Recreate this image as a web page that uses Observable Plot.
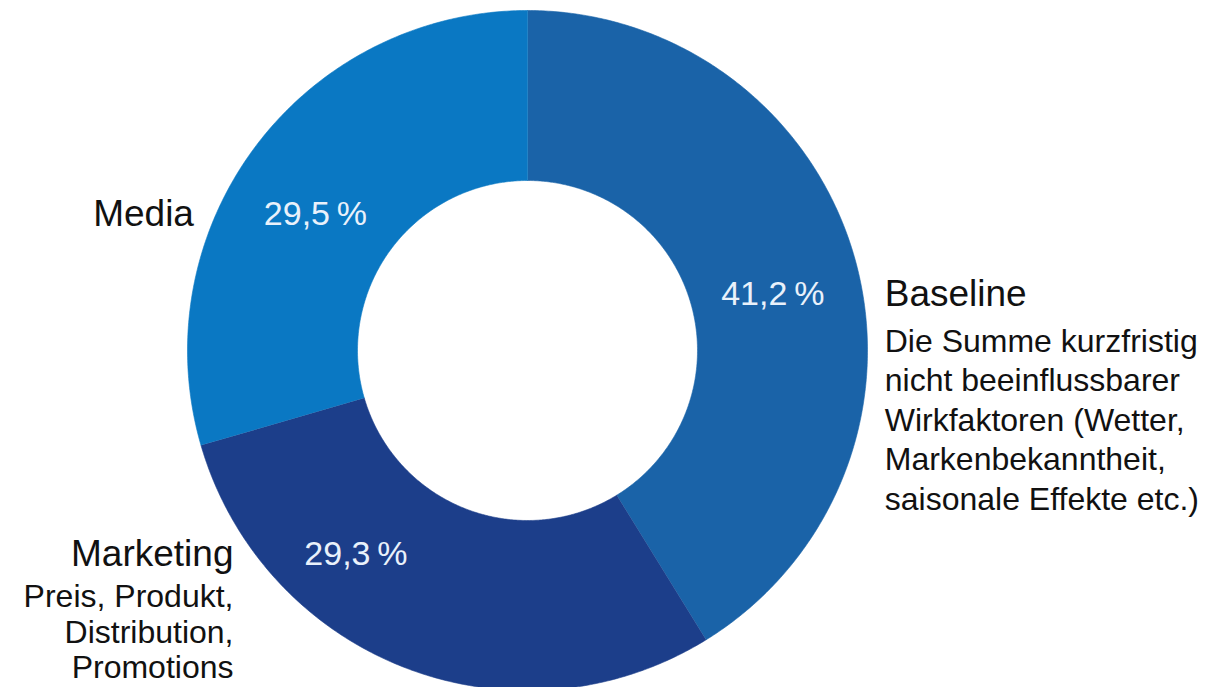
<!DOCTYPE html>
<html>
<head>
<meta charset="utf-8">
<script src="https://cdn.jsdelivr.net/npm/d3@7"></script>
<script src="https://cdn.jsdelivr.net/npm/@observablehq/plot@0.6"></script>
<style>
  html, body { margin: 0; padding: 0; background: #ffffff; overflow: hidden; }
  #chart svg { display: block; }
</style>
</head>
<body>
<div id="chart"></div>
<script>
// ---- Data ----
const categories = ["Baseline", "Marketing", "Media"];
const shares = [41.2, 29.3, 29.5];
const shareLabels = ["41,2\u2009%", "29,3\u2009%", "29,5\u2009%"];
const descriptions = [
  ["Die Summe kurzfristig", "nicht beeinflussbarer", "Wirkfaktoren (Wetter,", "Markenbekanntheit,", "saisonale Effekte etc.)"],
  ["Preis, Produkt,", "Distribution,", "Promotions"],
  []
];
const colors = ["#1a63a8", "#1c3e8a", "#0a78c3"];

// ---- Layout / style ----
const W = 1227, H = 687;
const cx = 527, cy = 350, pxR = 340;        // donut centre & outer radius in pixels
const rOuter = 1.0, rInner = 0.5;           // radii in scale units
const labelR = 0.75;
const labelNudgeX = [0, -0.235, -0.024];    // label placement tweaks (scale units)
const labelNudgeY = [-0.038, 0.1, -0.05];
const titleGap = 22 / pxR;
const font = "'Liberation Sans', Arial, Helvetica, sans-serif";

// ---- Build ring polygons from shares ----
const total = d3.sum(shares);
const ringPts = [];
const labels = [];
let acc = 0;
categories.forEach((c, i) => {
  const a0 = acc / total * 2 * Math.PI;
  acc += shares[i];
  const a1 = acc / total * 2 * Math.PI;
  const n = Math.max(2, Math.ceil((a1 - a0) / (Math.PI / 360)));
  const outer = d3.range(n + 1).map(k => a0 + (a1 - a0) * k / n);
  outer.forEach(t => ringPts.push({cat: c, x: rOuter * Math.sin(t), y: rOuter * Math.cos(t)}));
  outer.slice().reverse().forEach(t => ringPts.push({cat: c, x: rInner * Math.sin(t), y: rInner * Math.cos(t)}));
  const mid = (a0 + a1) / 2;
  const lx = labelR * Math.sin(mid) + labelNudgeX[i];
  const ly = labelR * Math.cos(mid) + labelNudgeY[i];
  const side = lx >= 0 ? 1 : -1;
  const tx = side * (Math.sqrt(1 - ly * ly) + titleGap);
  labels.push({
    cat: c, share: shareLabels[i], lx, ly, tx, ty: ly,
    anchor: side > 0 ? "start" : "end",
    desc: descriptions[i].join("\n")
  });
});

const sliceMarks = categories.map((c, i) =>
  Plot.line(ringPts.filter(d => d.cat === c), {
    x: "x", y: "y", fill: colors[i], stroke: colors[i], strokeWidth: 0.6, clip: true
  })
);

const plot = Plot.plot({
  width: W,
  height: H,
  margin: 0,
  x: {domain: [-cx / pxR, (W - cx) / pxR], axis: null},
  y: {domain: [-(H - cy) / pxR, cy / pxR], axis: null},
  style: {fontFamily: font, background: "#ffffff"},
  marks: [
    ...sliceMarks,
    Plot.text(labels, {
      x: "lx", y: "ly", text: "share", fill: "#e9f1fb",
      fontSize: 34, textAnchor: "middle", fontFamily: font
    }),
    Plot.text(labels.filter(d => d.anchor === "start"), {
      x: "tx", y: "ty", text: "cat", fill: "#111111",
      fontSize: 37, textAnchor: "start", fontFamily: font
    }),
    Plot.text(labels.filter(d => d.anchor === "end"), {
      x: "tx", y: "ty", text: "cat", fill: "#111111",
      fontSize: 37, textAnchor: "end", fontFamily: font
    }),
    Plot.text(labels.filter(d => d.anchor === "start" && d.desc), {
      x: "tx", y: "ty", text: "desc", fill: "#111111",
      fontSize: 32, textAnchor: "start", lineAnchor: "top", lineHeight: 1.235, dy: 30, fontFamily: font
    }),
    Plot.text(labels.filter(d => d.anchor === "end" && d.desc), {
      x: "tx", y: "ty", text: "desc", fill: "#111111",
      fontSize: 32, textAnchor: "end", lineAnchor: "top", lineHeight: 1.1, dy: 28, fontFamily: font
    })
  ]
});

document.getElementById("chart").appendChild(plot);
</script>
</body>
</html>
